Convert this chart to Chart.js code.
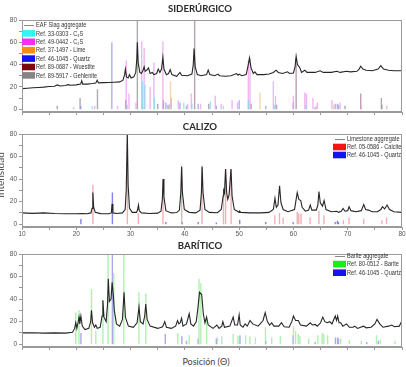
<!DOCTYPE html>
<html>
<head>
<meta charset="utf-8">
<script src="https://cdn.jsdelivr.net/npm/chart.js@4.4.1/dist/chart.umd.min.js"></script>
<style>
  body { margin: 0; background: #fff; }
  #wrap { position: relative; width: 406px; height: 367px; overflow: hidden; }
  canvas { position: absolute; left: 0; }
  .title { position: absolute; left: 0; width: 400px; text-align: center; height: 12px; line-height: 12px;
           font-family: Lato, 'Open Sans', sans-serif; font-weight: 700; font-size: 9.6px; color: #2b2b2b; z-index: 2; }
  #xlab { position: absolute; left: 0; width: 412px; text-align: center; top: 356px; line-height: 12px;
          font-family: Lato, 'Open Sans', sans-serif; font-size: 9px; color: #444; }
  #ylab { position: absolute; left: -30px; top: 170px; width: 60px; text-align: center; line-height: 10px;
          transform: rotate(-90deg); font-family: Lato, 'Open Sans', sans-serif; font-size: 10px; color: #444; }
</style>
</head>
<body>
<div id="wrap">
  <div class="title" style="top:3px">SIDERÚRGICO</div>
  <div class="title" style="top:121px">CALIZO</div>
  <div class="title" style="top:240px">BARÍTICO</div>
  <canvas id="c1" width="406" height="104" style="top:14px"></canvas>
  <canvas id="c2" width="406" height="112" style="top:128px"></canvas>
  <canvas id="c3" width="406" height="105" style="top:248px"></canvas>
  <div id="xlab">Posición (Θ)</div>
  <div id="ylab">Intensidad</div>
</div>
<script>
// axis ticks (2θ and intensity)
const xTicks = [10, 15, 20, 25, 30, 35, 40, 45, 50, 55, 60, 65, 70, 75, 80];
const yTicks = [0, 10, 20, 30, 40, 50, 60, 70, 80];

// ---- EAF slag (siderúrgico) ----
const slagPattern = [[10,18.5],[11,18.8],[12,19.2],[13,19.5],[14,19.8],[15,20.3],[16,20.6],[16.5,21.8],[17,20.8],[18,21.3],
  [18.5,22],[19,21.5],[20,21.8],[20.8,22.5],[21.0,25.5],[21.2,22.5],[22,22.5],[23,23],[23.6,23.5],[23.85,26],[24.1,23.6],
  [25,23.8],[26,24],[27,24.2],[28,24.5],[28.6,26],[28.9,31],[29.05,36],[29.25,29],[29.55,28],[29.8,31],[30.1,28],[30.6,29],
  [30.95,33],[31.15,45],[31.25,60],[31.4,42],[31.7,33],[32.0,32],[32.3,35],[32.5,38],[32.7,34],[33.0,35],[33.3,37],[33.6,32],
  [34.0,33],[34.3,31],[34.8,32],[35.1,36],[35.4,33],[35.7,36],[35.95,46.5],[36.15,36],[36.6,31],[37.0,32],[37.3,35.5],
  [37.6,31],[38.5,29.5],[39.1,33],[39.4,30.5],[40.5,30],[41.3,31.5],[41.55,40],[41.7,54.5],[41.9,38],[42.3,31],[43,30],
  [44.0,31],[44.3,35],[44.6,31],[45.5,30],[46.1,31.5],[46.4,30],[47.5,29.5],[48.5,30],[49.5,32],[49.8,30.5],[50.0,31.5],
  [50.5,30],[51.3,31],[51.65,39],[51.9,46],[52.2,37],[52.6,32],[52.9,33.5],[53.3,31],[54.5,31],[55.5,31.5],[56.3,33],
  [56.8,35],[57.2,33],[58,32],[58.9,33.5],[59.3,32],[60,32.5],[60.3,38],[60.5,47.5],[60.75,40],[61.2,37],[61.5,33],
  [62.1,35],[62.5,33],[64,33],[64.9,34.5],[65.5,33],[67,33],[68,34],[68.6,33],[69.8,34],[70.5,33.5],[71.7,34],[72.1,36],
  [72.4,38.5],[72.8,36],[73.4,35],[74.5,34.5],[75.6,36],[76.1,39],[76.6,36],[77.5,35],[78.5,34.5],[80,34.5]];
const c3sRef = [[22.9,3],[29.4,4],[32.2,25],[32.65,22],[34.4,10],[37.2,5],[39.8,6],[41.3,5],[44.7,7],[47.1,3],[51.7,8],[56.5,4],[62.3,4]];
const c2sRef = [[19.5,2],[23.4,3],[27.6,3],[29.2,44],[29.7,14],[31.0,6],[32.05,61],[32.5,55],[33.6,20],[34.3,42],[35.95,61],
  [37.5,10],[38.8,8],[40.5,5],[41.2,14],[42.9,5],[45.6,12],[46.7,5],[48.7,8],[49.7,6],[51.7,43],[52.0,46],[56.3,25],
  [56.7,12],[60.0,12],[62.1,15],[62.4,14],[63.6,10],[64.4,6],[67.1,8],[68.6,6],[72.5,3],[77.2,3]];
const limeRef = [[32.2,3],[37.35,25],[53.85,15],[64.2,3],[67.4,4]];
const quartzSlagRef = [[20.85,3],[26.55,60],[36.5,6],[39.1,6],[40.3,3],[42.45,5],[45.8,3],[50.0,8],[54.9,3],[59.95,6],[64.0,2],[67.7,5],[68.1,5],[68.3,4]];
const wuestiteRef = [[36.05,8],[41.8,80],[60.5,46],[72.4,14],[76.3,4]];
const gehleniteRef = [[16.5,3],[20.7,10],[23.9,18],[29.1,8],[31.25,80],[35.0,5],[36.9,4],[44.4,5],[52.2,5],[56.9,4],[69.5,3],[76.2,10]];

// ---- limestone (calizo) ----
const limestonePattern = [[10,10],[12,9.6],[14,10],[16,9.5],[18,9.3],[20,9.2],[21,9.5],[22,9.3],[22.7,10],[22.9,14],[23.05,28],
  [23.2,15],[23.5,10.5],[24.5,9.4],[26,9.3],[26.45,10],[26.6,18],[26.75,10],[27.5,9.5],[28.5,10],[29.0,13],[29.2,30],[29.4,80],
  [29.55,35],[29.8,14],[30.3,10.5],[31.1,10.5],[31.3,13],[31.45,17],[31.6,12],[32,10],[33.5,9.5],[35,9.8],[35.6,11.5],
  [35.85,22],[36.0,40],[36.15,24],[36.5,12],[37.5,10],[38.5,10.3],[39.0,12.5],[39.25,28],[39.4,51],[39.55,28],[39.9,13],
  [40.8,10.5],[42,10],[42.8,12.5],[43.05,28],[43.18,51],[43.35,28],[43.7,13],[44.5,10.5],[46,10.2],[46.7,13],[47.05,25],
  [47.15,30],[47.3,28],[47.5,49],[47.7,28],[47.9,22],[48.15,26],[48.5,49],[48.7,25],[49.1,13],[50,10.5],[50.1,11.5],
  [50.3,10.5],[52,10],[54,10],[55.5,10.5],[56.3,13],[56.6,23],[56.85,15],[57.15,17],[57.45,34],[57.7,19],[58.1,13],[59,11],
  [60.2,13],[60.7,28],[61.0,22],[61.35,21],[61.6,15],[62.2,11.5],[62.8,12.5],[63.1,17],[63.4,12.5],[64.2,12.5],[64.5,17],
  [64.7,29],[64.95,19],[65.35,16],[65.65,21],[66,13],[67,11],[68.0,11.5],[68.3,10.5],[68.8,11.5],[69.15,14],[69.5,11.5],
  [70.0,12],[70.25,15.5],[70.6,12],[71.5,11],[72.5,12],[72.95,17.5],[73.3,13],[73.8,12.5],[74.5,11],[75.5,11],[76.1,13],
  [76.4,15.5],[76.8,13.5],[77.25,17],[77.7,13],[78.5,11],[80,10.5]];
const calciteRef = [[23.06,35],[29.41,80],[31.44,10],[35.97,40],[39.42,52],[43.16,52],[47.12,30],[47.51,49],[48.52,49],
  [56.58,8],[57.43,10],[58.1,6],[60.7,11],[60.98,9.5],[61.4,9.5],[63.07,6],[64.7,12],[65.62,8],[69.2,3.5],[70.25,6],
  [72.95,5],[76.3,3.5],[77.15,6]];
const quartzLimestoneRef = [[20.85,4.5],[26.65,28],[36.5,2],[39.5,2],[42.45,2],[45.8,1.5],[50.1,4],[54.9,2],[59.95,2],[67.7,2],[68.1,3],[68.3,2]];

// ---- barite (barítico) ----
const baritePattern = [[10,10],[12,10.2],[14,9.8],[16,10],[18,9.8],[19.3,10.5],[19.7,14],[19.9,19],[20.1,14],[20.35,20],
  [20.5,24],[20.65,18],[20.85,25],[21.1,16],[21.6,13],[22.3,14],[22.65,20],[22.8,30],[23.0,19],[23.35,15],[23.6,17],
  [23.85,14],[24.4,15],[24.75,25],[24.9,39],[25.1,24],[25.5,20],[25.75,35],[25.9,58],[26.1,38],[26.4,40],[26.6,55],
  [26.85,42],[27.0,30],[27.4,18],[28.0,16],[28.5,22],[28.8,46],[29.05,24],[29.6,16],[30.5,15],[31.2,19],[31.55,33],
  [31.8,20],[32.3,18],[32.6,25],[32.8,35.5],[33.05,22],[33.6,16],[35,14],[35.9,15.5],[36.3,20],[36.6,15],[37.5,14],
  [38.3,16],[38.65,21],[38.9,18],[39.15,19],[39.4,23],[39.65,16],[40.3,18],[40.8,27],[41.1,18],[41.6,16],[42.1,20],
  [42.45,34],[42.7,46],[43.1,44],[43.4,27],[43.7,19],[44.0,24],[44.3,17],[45.2,14],[45.9,17],[46.3,14],[46.8,16],[47.0,20],
  [47.3,15],[48.3,16],[48.9,24],[49.2,17],[49.7,17],[50.0,26],[50.2,17],[50.7,15],[51.1,18],[51.5,16],[52.0,21],[52.5,18],
  [53.5,16],[54.4,21],[54.8,28],[55.2,20],[55.6,17],[56.0,19],[56.4,16],[57.3,16],[57.8,19],[58.3,15.5],[59.2,15],[59.7,20],
  [60.0,25],[60.4,21],[60.9,21],[61.3,17],[62.4,16],[63.1,19],[63.5,17],[64.0,17.5],[64.4,16],[65.0,19],[65.4,24],[65.8,20],
  [66.2,19],[66.7,20],[67.1,18],[67.7,25],[67.95,21],[68.15,25],[68.4,19],[68.7,19],[69.1,16],[69.8,18],[70.3,15],[71.0,15],
  [71.3,16],[71.8,14],[72.9,16],[73.4,14.5],[74.3,15],[75.0,18],[75.4,22],[75.9,18],[76.5,15],[77.5,16],[78.1,17],[78.6,15.5],
  [79.5,16],[80,21]];
const bariteRef = [[19.9,28],[20.5,30],[22.8,49],[23.6,12],[24.9,39],[25.85,80],[26.9,63],[28.75,80],[31.55,46],[32.8,45],
  [38.7,10],[40.8,8],[42.6,58],[42.95,54],[44.0,22],[46.0,6],[46.8,7],[48.9,9],[49.8,7],[51.2,8],[52.0,7],[53.0,6],[54.85,15],
  [56.0,6],[57.6,7],[60.0,16],[60.4,12],[60.9,9],[61.2,7],[62.8,5],[64.5,8],[65.3,10],[65.6,9],[66.3,8],[68.7,5],[70.3,4],
  [72.5,3],[75.3,8],[76.0,4],[78.7,3]];
const quartzBariteRef = [[20.85,10],[26.65,80],[36.4,9],[39.45,7],[40.3,3],[42.45,5],[45.8,5],[50.15,8],[54.9,3],[59.95,8],
  [64.0,2],[67.75,6],[68.15,6],[68.3,5],[73.5,2],[75.65,3]];

const tickFont = { family: "'Liberation Sans', Arial, sans-serif", size: 6.5 };
const pts = arr => arr.map(p => ({ x: p[0], y: p[1] }));
// each reference peak becomes a vertical stick from 0 to its intensity, with a gap after it
const sticks = arr => arr.flatMap(p => [{ x: p[0], y: 0 }, { x: p[0], y: p[1] }, { x: p[0], y: null }]);

// box around the plot area
const frame = {
  id: 'frame',
  afterDatasetsDraw(chart) {
    const a = chart.chartArea, ctx = chart.ctx;
    ctx.save();
    ctx.strokeStyle = '#9a9a9a';
    ctx.lineWidth = 1;
    ctx.strokeRect(Math.round(a.left) + 0.5, Math.round(a.top) + 0.5, Math.round(a.right - a.left) - 1, Math.round(a.bottom - a.top) - 1);
    ctx.restore();
  }
};

// legend drawn inside the plot area
const insideLegend = {
  id: 'insideLegend',
  afterDatasetsDraw(chart, args, opts) {
    const ctx = chart.ctx, a = chart.chartArea;
    const x0 = opts.fromRight ? a.right - opts.dx : a.left + opts.dx;
    ctx.save();
    ctx.font = "6.5px 'Liberation Sans', Arial, sans-serif";
    ctx.textBaseline = 'middle';
    chart.data.datasets.forEach((ds, i) => {
      const y = a.top + opts.dy + i * opts.step;
      if (!ds.isStick) {
        ctx.strokeStyle = '#888';
        ctx.lineWidth = 1;
        ctx.beginPath();
        ctx.moveTo(x0 + 2, Math.round(y) + 0.5);
        ctx.lineTo(x0 + 12, Math.round(y) + 0.5);
        ctx.stroke();
      } else {
        ctx.fillStyle = ds.legendColor;
        ctx.fillRect(x0, y - 3.3, 13, 6.6);
      }
      ctx.fillStyle = '#333';
      ctx.translate(x0 + 14, y);
      ctx.scale(0.86, 1);
      ctx.fillText(ds.label, 0, 0.5);
      ctx.setTransform(1, 0, 0, 1, 0, 0);
    });
    ctx.restore();
  }
};

function makePanel(id, lineLabel, pattern, refs, showX, legend) {
  const datasets = [{
    label: lineLabel, data: pts(pattern), borderColor: '#262626',
    borderWidth: 1.1, pointRadius: 0, tension: 0, order: 0
  }];
  refs.forEach(r => datasets.push({
    label: r.label, data: sticks(r.data), borderColor: r.color, legendColor: r.legendColor, isStick: true,
    borderWidth: 1.4, pointRadius: 0, spanGaps: false, borderCapStyle: 'butt', order: 1
  }));
  return new Chart(document.getElementById(id), {
    type: 'line',
    data: { datasets },
    options: {
      responsive: false,
      animation: false,
      layout: { padding: { top: 6, right: 4, left: 0, bottom: 0 } },
      plugins: { legend: { display: false }, tooltip: { enabled: false }, insideLegend: legend },
      scales: {
        x: {
          type: 'linear', min: 10, max: 80, offset: false,
          afterBuildTicks: s => { s.ticks = xTicks.map(v => ({ value: v })); },
          afterFit: s => { s.height = showX ? 13 : 6; },
          ticks: { display: showX, autoSkip: false, maxRotation: 0, padding: 0, font: tickFont, color: '#555',
                   callback: v => v % 10 === 0 ? v : '' },
          grid: { drawOnChartArea: false, tickLength: 3, color: '#999', offset: false },
          border: { color: '#999' }
        },
        y: {
          min: -2.5, max: 80,
          afterBuildTicks: s => { s.ticks = yTicks.map(v => ({ value: v })); },
          afterFit: s => { s.width = 22; },
          ticks: { font: tickFont, color: '#555', padding: 2, callback: v => v % 20 === 0 ? v : '' },
          grid: { drawOnChartArea: false, tickLength: 3, color: '#999' },
          border: { color: '#999' }
        }
      }
    },
    plugins: [frame, insideLegend]
  });
}

makePanel('c1', 'EAF Slag aggregate', slagPattern, [
  { label: 'Ref. 33-0303 - C\u2083S', data: c3sRef, color: 'rgba(120,220,240,0.7)', legendColor: '#2ff5f5' },
  { label: 'Ref. 49-0442 - C\u2082S', data: c2sRef, color: 'rgba(235,150,235,0.7)', legendColor: '#f52ff5' },
  { label: 'Ref. 37-1497 - Lime', data: limeRef, color: 'rgba(240,200,150,0.75)', legendColor: '#ff8a1a' },
  { label: 'Ref. 46-1045 - Quartz', data: quartzSlagRef, color: 'rgba(150,150,235,0.75)', legendColor: '#1414f0' },
  { label: 'Ref. 89-0687 - Wuestite', data: wuestiteRef, color: 'rgba(175,145,165,0.85)', legendColor: '#7a0a0a' },
  { label: 'Ref. 89-5917 - Gehlenite', data: gehleniteRef, color: 'rgba(160,155,165,0.85)', legendColor: '#858585' }
], false, { fromRight: false, dx: 0, dy: 5, step: 8.4 });

makePanel('c2', 'Limestone aggregate', limestonePattern, [
  { label: 'Ref. 05-0586 - Calcite', data: calciteRef, color: 'rgba(235,150,160,0.75)', legendColor: '#f51414' },
  { label: 'Ref. 46-1045 - Quartz', data: quartzLimestoneRef, color: 'rgba(90,90,225,0.75)', legendColor: '#1414f0' }
], true, { fromRight: true, dx: 69, dy: 5, step: 8 });

makePanel('c3', 'Barite aggregate', baritePattern, [
  { label: 'Ref. 80-0512 - Barite', data: bariteRef, color: 'rgba(150,235,150,0.75)', legendColor: '#14f014' },
  { label: 'Ref. 46-1045 - Quartz', data: quartzBariteRef, color: 'rgba(140,140,230,0.75)', legendColor: '#1414f0' }
], false, { fromRight: true, dx: 69, dy: 1.5, step: 8.6 });
</script>
</body>
</html>
